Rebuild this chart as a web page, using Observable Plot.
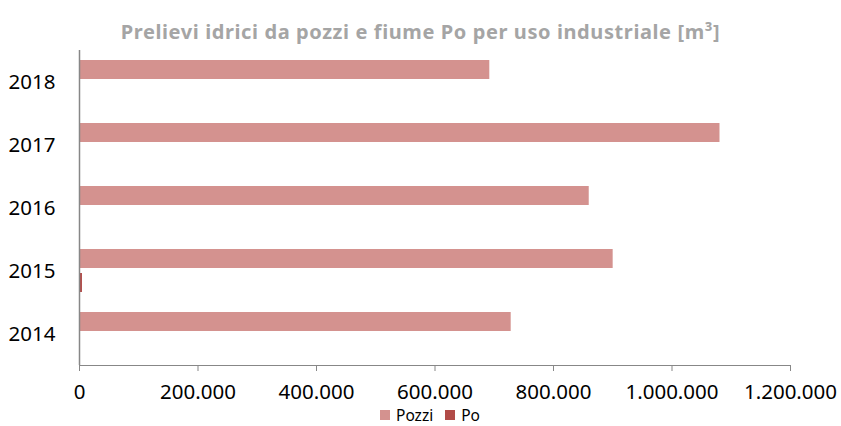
<!DOCTYPE html>
<html>
<head>
<meta charset="utf-8">
<script src="https://cdn.jsdelivr.net/npm/d3@7"></script>
<script src="https://cdn.jsdelivr.net/npm/@observablehq/plot@0.6"></script>
<style>
  html, body { margin: 0; padding: 0; background: #fff; }
  #wrap { position: relative; width: 841px; height: 426px; font-family: "Noto Sans", sans-serif; }
  #title { position: absolute; z-index: 2; left: 0; width: 841px; top: 20px; text-align: center; font-weight: bold; font-size: 20px; letter-spacing: 0.6px; line-height: 24px; color: #a5a5a5; white-space: nowrap; }
  #chart { position: absolute; z-index: 1; left: 0; top: 40px; }
  #chart svg text { fill: #000; }
  #legend { position: absolute; z-index: 2; left: 380px; top: 407px; display: flex; align-items: center; font-size: 15.5px; line-height: 16px; color: #000; white-space: nowrap; }
  #legend .sw { display: inline-block; width: 10px; height: 10px; margin-right: 6px; }
  #legend .item { display: flex; align-items: center; margin-right: 12px; }
</style>
</head>
<body>
<div id="wrap">
  <div id="title">Prelievi idrici da pozzi e fiume Po per uso industriale [m³]</div>
  <div id="chart"></div>
  <div id="legend"></div>
</div>
<script>
const years = ["2014", "2015", "2016", "2017", "2018"];
const pozzi = [728600, 900700, 860300, 1081000, 692500];
const po = [0, 5000, 0, 0, 0];
const series = ["Pozzi", "Po"];
const colors = ["#d4928f", "#b14b48"];
const xTicks = [0, 200000, 400000, 600000, 800000, 1000000, 1200000];

const data = years.flatMap((y, i) => [
  {year: y, series: "Pozzi", value: pozzi[i]},
  {year: y, series: "Po", value: po[i]}
]);

const fmt = d => d3.format(",")(d).replace(/,/g, ".");

const chart = Plot.plot({
  width: 841,
  height: 366,
  marginLeft: 79,
  marginRight: 51,
  marginTop: 9,
  marginBottom: 40,
  style: {fontFamily: "Noto Sans", fontSize: "20.5px", color: "#878787", background: "transparent", overflow: "visible"},
  x: {domain: [0, 1200000], ticks: xTicks, tickFormat: fmt, tickSize: 6, tickPadding: 13, line: true, label: null},
  fy: {domain: years.slice().reverse(), padding: 0, label: null, tickSize: 0, tickPadding: 24},
  y: {domain: series, paddingInner: 0.2, paddingOuter: 0.368, axis: null},
  color: {domain: series, range: colors},
  facet: {data, y: "year"},
  marks: [
    Plot.barX(data, {x: "value", y: "series", fill: "series"}),
    Plot.ruleX([0], {stroke: "#878787", strokeWidth: 1.5})
  ]
});
document.getElementById("chart").appendChild(chart);

const legend = document.getElementById("legend");
series.forEach((s, i) => {
  const item = document.createElement("span");
  item.className = "item";
  const sw = document.createElement("span");
  sw.className = "sw";
  sw.style.background = colors[i];
  item.appendChild(sw);
  item.appendChild(document.createTextNode(s));
  legend.appendChild(item);
});
</script>
</body>
</html>
